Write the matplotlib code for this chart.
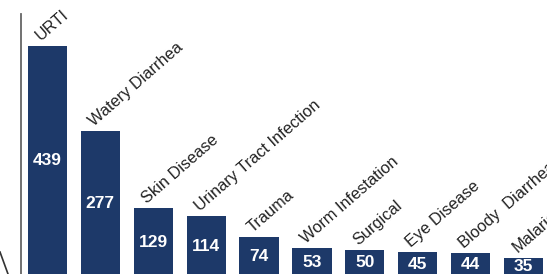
import matplotlib
matplotlib.use('Agg')
import matplotlib.pyplot as plt
from matplotlib.lines import Line2D

categories = ['URTI', 'Watery Diarrhea', 'Skin Disease', 'Urinary Tract Infection',
              'Trauma', 'Worm Infestation', 'Surgical', 'Eye Disease',
              'Bloody  Diarrhea', 'Malaria']
counts = [439, 277, 129, 114, 74, 53, 50, 45, 44, 35]

bar_color = '#1d3969'
plt.rcParams['font.family'] = ['Liberation Sans', 'DejaVu Sans']

fig = plt.figure(figsize=(5.47, 2.74), dpi=100)
ax = fig.add_axes([21 / 547, -2 / 274, 526 / 547, 262.5 / 274])

x = list(range(len(categories)))
bars = ax.bar(x, counts, width=0.74, color=bar_color)

ax.set_xlim(-0.5, 9.443)
ax.set_ylim(0, 500)

for rect, name, val in zip(bars, categories, counts):
    cx = rect.get_x() + rect.get_width() / 2
    ax.text(cx, val / 2, str(val), color='white', fontsize=12.5,
            fontweight='bold', ha='center', va='center')
    ax.annotate(name, xy=(cx, val), xytext=(-4.5, 3), textcoords='offset points',
                rotation=41, rotation_mode='anchor', ha='left', va='baseline',
                fontsize=11.8, color='#222222', annotation_clip=False)

for side in ['top', 'right', 'bottom']:
    ax.spines[side].set_visible(False)
ax.spines['left'].set_color('#666666')
ax.spines['left'].set_linewidth(1.3)
ax.set_xticks([])
ax.set_yticks([])

# small stroke at the lower left corner
fig.add_artist(Line2D([0 / 547, 8 / 547], [1 - 252 / 274, 1 - 274 / 274],
                      transform=fig.transFigure, color='#333333', lw=1.2))

fig.savefig('out.png', dpi=100)
